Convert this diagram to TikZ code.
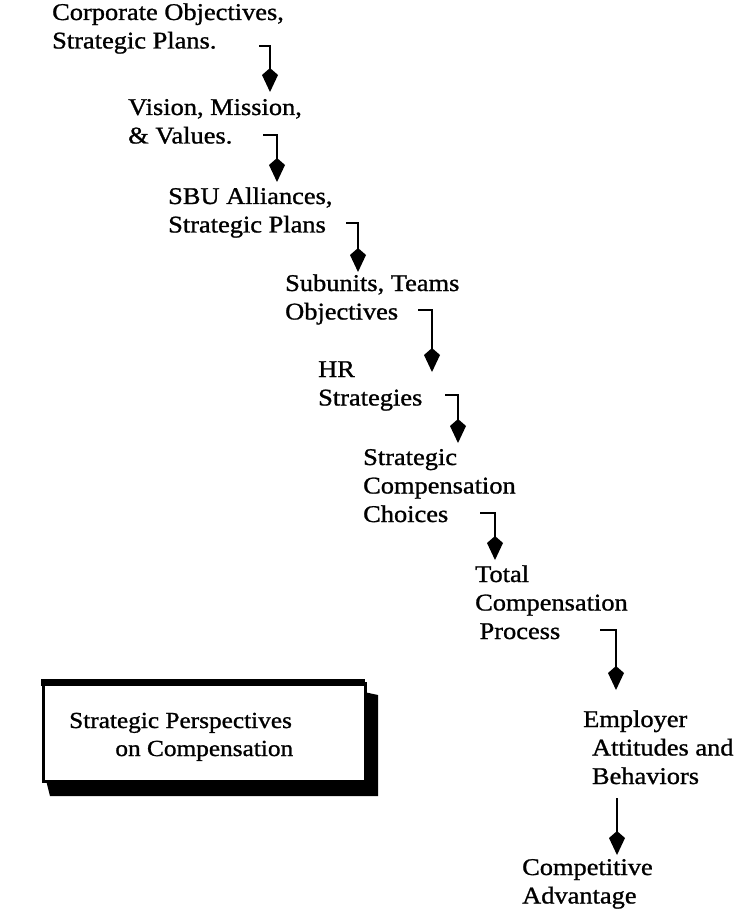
\documentclass[tikz,border=0pt]{standalone}
\usepackage{graphicx}
\usepackage{fontspec}
\setmainfont{Liberation Serif}[FakeBold=1]
\usetikzlibrary{arrows.meta}
\newcommand\wtxt[1]{\scalebox{1.1}[1]{\vtop{#1}}}
\tikzset{
  lbl/.style={anchor=base west, inner sep=0pt, font=\fontsize{24}{28.5}\selectfont},
  boxlbl/.style={anchor=base west, inner sep=0pt, font=\fontsize{23}{28}\selectfont},
  arr/.style={line width=2.6pt, line join=miter, -{Kite[length=24pt,width=16pt,inset=7pt]}},
  frame/.style={draw, line width=2.5pt, anchor=north west, inner sep=0pt, fill=white},
}
\begin{document}
\begin{tikzpicture}[x=1pt,y=-1pt]
\useasboundingbox (0,0) rectangle (734,909);

% text blocks
\node[lbl] (b1) at (52,20)  {\wtxt{\hbox{Corporate Objectives,}\hbox{Strategic Plans.}}};
\node[lbl] (b2) at (128,115) {\wtxt{\hbox{Vision, Mission,}\hbox{\& Values.}}};
\node[lbl] (b3) at (168,204) {\wtxt{\hbox{SBU Alliances,}\hbox{Strategic Plans}}};
\node[lbl] (b4) at (285,291) {\wtxt{\hbox{Subunits, Teams}\hbox{Objectives}}};
\node[lbl] (b5) at (318,377) {\wtxt{\hbox{HR}\hbox{Strategies}}};
\node[lbl] (b6) at (363,465) {\wtxt{\hbox{Strategic}\hbox{Compensation}\hbox{Choices}}};
\node[lbl] (b7) at (475,582) {\wtxt{\hbox{Total}\hbox{Compensation}\hbox{\hskip4pt Process}}};
\node[lbl] (b8) at (583,727) {\wtxt{\hbox{Employer}\hbox{\hskip8pt Attitudes and}\hbox{\hskip8pt Behaviors}}};
\node[lbl] (b9) at (522,875) {\wtxt{\hbox{Competitive}\hbox{Advantage}}};

% framed box with shadow
\fill (364,692) -- (378,695) -- (378,796) -- (50,796) -- (46,780) -- (364,780) -- cycle;
\node[frame, minimum width=322pt, minimum height=98pt] (bx) at (42,682) {};
\fill (40.75,679) rectangle (365.25,686);
\node[boxlbl] (bt) at (69,728) {\wtxt{\hbox{Strategic Perspectives}\hbox{\hskip42pt on Compensation}}};

% connectors
\coordinate (s1) at (259,46);  \coordinate (e1) at (270,92);
\coordinate (s2) at (263,135); \coordinate (e2) at (277,182);
\coordinate (s3) at (346,223); \coordinate (e3) at (358,272);
\coordinate (s4) at (418,310); \coordinate (e4) at (432,372);
\coordinate (s5) at (445,395); \coordinate (e5) at (458,443);
\coordinate (s6) at (480,513); \coordinate (e6) at (495,560);
\coordinate (s7) at (600,630); \coordinate (e7) at (616,690);
\coordinate (s8) at (617,798); \coordinate (e8) at (617,855);
\draw[arr] (s1) -| (e1);
\draw[arr] (s2) -| (e2);
\draw[arr] (s3) -| (e3);
\draw[arr] (s4) -| (e4);
\draw[arr] (s5) -| (e5);
\draw[arr] (s6) -| (e6);
\draw[arr] (s7) -| (e7);
\draw[arr] (s8) -- (e8);
\end{tikzpicture}
\end{document}
